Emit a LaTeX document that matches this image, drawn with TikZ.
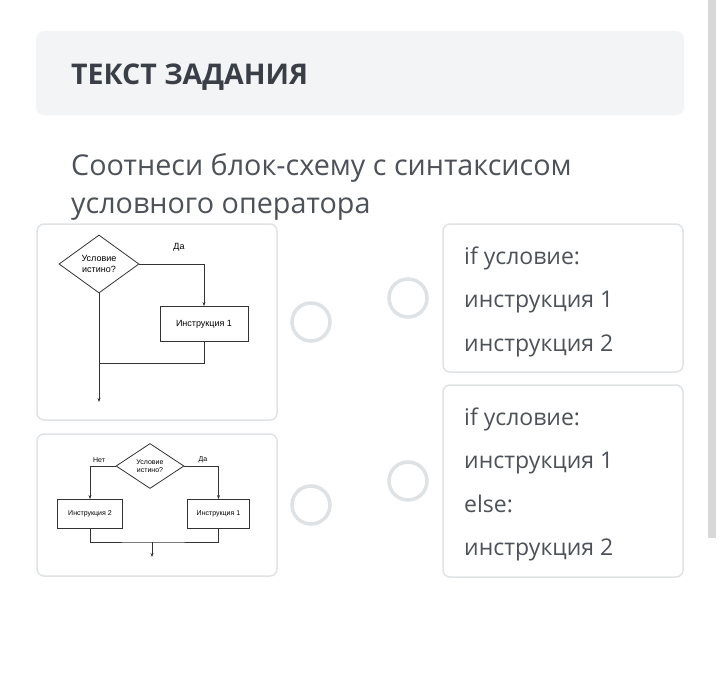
\documentclass[tikz,border=0pt]{standalone}
\usepackage{fontspec}
\setmainfont{Open Sans}
\newfontfamily\flowfont{Liberation Sans}
\usetikzlibrary{shapes.geometric,arrows.meta}
\definecolor{headbg}{HTML}{F3F4F6}
\definecolor{headtxt}{HTML}{3A3F47}
\definecolor{bodytxt}{HTML}{4D5259}
\definecolor{cardline}{HTML}{E0E3E6}
\definecolor{radioline}{HTML}{DEE2E5}
\definecolor{scrollbar}{HTML}{D8D8D8}
\definecolor{flowline}{HTML}{333333}
\tikzset{
  card/.style={draw=cardline,line width=1.5pt,rounded corners=7pt},
  radio/.style={draw=radioline,line width=3.5pt},
  answer/.style={anchor=base west,inner sep=0pt,text=bodytxt,font=\fontsize{23}{28}\selectfont},
  flow/.style={draw=flowline,line width=0.8pt},
  cond/.style={flow,diamond,inner sep=0pt,align=center,font=\flowfont\fontsize{9}{10.5}\selectfont},
  instr/.style={flow,rectangle,inner sep=0pt,font=\flowfont\fontsize{9}{11}\selectfont},
  tag/.style={inner sep=0pt,font=\flowfont\fontsize{9}{11}\selectfont}
}
\begin{document}
\begin{tikzpicture}[x=1pt,y=-1pt,>={Stealth[length=4pt,width=3pt]}]
\useasboundingbox[fill=white] (0,0) rectangle (720,675);
% header
\fill[headbg,rounded corners=8pt] (36,31) rectangle (684,115);
\node[anchor=base west,inner sep=0pt,text=headtxt,font=\fontsize{28.5}{34}\selectfont\bfseries] (title) at (71,84) {ТЕКСТ ЗАДАНИЯ};
\node[anchor=base west,inner sep=0pt,text=bodytxt,font=\fontsize{28.7}{34}\selectfont] (task1) at (71,175) {Соотнеси блок-схему с синтаксисом};
\node[anchor=base west,inner sep=0pt,text=bodytxt,font=\fontsize{28.7}{34}\selectfont] (task2) at (71,213) {условного оператора};
% scrollbar
\fill[scrollbar] (708,0) rectangle (716,538);
% cards
\draw[card] (37,224) rectangle (277,420);
\draw[card] (37,434) rectangle (277,576);
\draw[card] (443,224) rectangle (683,372);
\draw[card] (443,385) rectangle (683,577);
\foreach \cx/\cy in {311/322,408/298,311/505,408/481}
  \draw[radio] (\cx,\cy) circle (19pt);
% answers
\node[answer] (a1) at (464,264) {if условие:};
\node[answer] (a2) at (464,307) {инструкция 1};
\node[answer] (a3) at (464,351) {инструкция 2};
\node[answer] (b1) at (464,425) {if условие:};
\node[answer] (b2) at (464,468) {инструкция 1};
\node[answer] (b3) at (464,512) {else:};
\node[answer] (b4) at (464,555) {инструкция 2};
% flowchart: if
\node[cond,minimum width=80pt,minimum height=58pt] (cond1) at (99,264) {Условие\\истино?};
\node[instr,minimum width=88pt,minimum height=35pt] (ins1) at (204,324) {Инструкция 1};
\node[tag] (yes1) at (179,247) {Да};
\coordinate (join1) at (99,363);
\coordinate (end1) at (99,402);
\draw[flow,->] (cond1.east) -| (ins1.north);
\draw[flow] (ins1.south) |- (join1);
\draw[flow,->] (cond1.south) -- (end1);
% flowchart: if-else
\node[cond,minimum width=68pt,minimum height=45pt,font=\flowfont\fontsize{7}{8.5}\selectfont] (cond2) at (150,466) {Условие\\истино?};
\node[instr,minimum width=65pt,minimum height=29pt,font=\flowfont\fontsize{7}{8.5}\selectfont] (ins2) at (90,514) {Инструкция 2};
\node[instr,minimum width=62pt,minimum height=29pt,font=\flowfont\fontsize{7}{8.5}\selectfont] (ins3) at (218.5,514) {Инструкция 1};
\node[tag,font=\flowfont\fontsize{7}{8.5}\selectfont] (no2) at (99,460) {Нет};
\node[tag,font=\flowfont\fontsize{7}{8.5}\selectfont] (yes2) at (203,460) {Да};
\coordinate (join2) at (152,542);
\coordinate (end2) at (152,557);
\draw[flow,->] (cond2.west) -| (ins2.north);
\draw[flow,->] (cond2.east) -| (ins3.north);
\draw[flow] (ins2.south) |- (join2) -| (ins3.south);
\draw[flow,->] (join2) -- (end2);
\end{tikzpicture}
\end{document}
